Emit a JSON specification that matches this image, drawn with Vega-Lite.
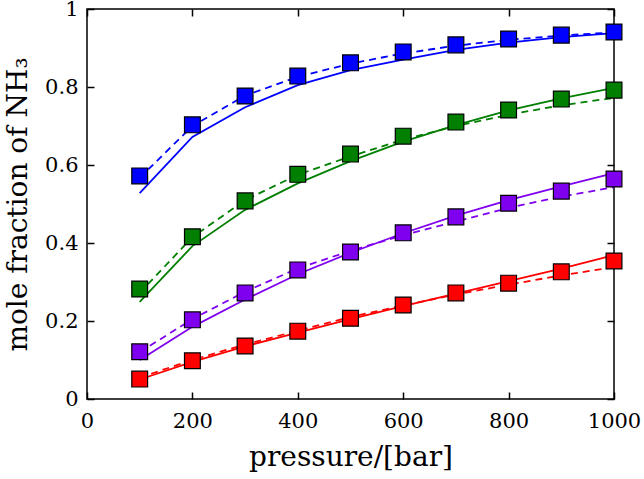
{
  "$schema": "https://vega.github.io/schema/vega-lite/v6.json",
  "width": 527,
  "height": 390,
  "autosize": {"type": "none"},
  "padding": {"left": 87, "top": 9, "right": 30, "bottom": 80},
  "background": "white",
  "config": {
    "view": {"stroke": "black", "strokeWidth": 1.5},
    "font": "DejaVu Serif",
    "axis": {
      "labelFont": "DejaVu Serif",
      "titleFont": "DejaVu Serif",
      "labelFontSize": 21,
      "titleFontSize": 28,
      "titleFontWeight": "normal",
      "labelColor": "black",
      "titleColor": "black",
      "tickColor": "black",
      "grid": false,
      "domain": false,
      "ticks": true,
      "tickSize": 7,
      "offset": -7,
      "tickWidth": 1.5,
      "zindex": 1
    }
  },
  "resolve": {"axis": {"x": "independent", "y": "independent"}},
  "data": {"values": [
    {"s":"a","k":"exp","p":100,"y":0.572},{"s":"a","k":"exp","p":200,"y":0.703},{"s":"a","k":"exp","p":300,"y":0.777},{"s":"a","k":"exp","p":400,"y":0.828},{"s":"a","k":"exp","p":500,"y":0.862},{"s":"a","k":"exp","p":600,"y":0.890},{"s":"a","k":"exp","p":700,"y":0.908},{"s":"a","k":"exp","p":800,"y":0.923},{"s":"a","k":"exp","p":900,"y":0.933},{"s":"a","k":"exp","p":1000,"y":0.941},
    {"s":"a","k":"solid","p":100,"y":0.528},{"s":"a","k":"solid","p":200,"y":0.672},{"s":"a","k":"solid","p":300,"y":0.748},{"s":"a","k":"solid","p":400,"y":0.805},{"s":"a","k":"solid","p":500,"y":0.843},{"s":"a","k":"solid","p":600,"y":0.870},{"s":"a","k":"solid","p":700,"y":0.895},{"s":"a","k":"solid","p":800,"y":0.914},{"s":"a","k":"solid","p":900,"y":0.928},{"s":"a","k":"solid","p":1000,"y":0.938},
    {"s":"a","k":"dash","p":100,"y":0.567},{"s":"a","k":"dash","p":200,"y":0.700},{"s":"a","k":"dash","p":300,"y":0.778},{"s":"a","k":"dash","p":400,"y":0.826},{"s":"a","k":"dash","p":500,"y":0.860},{"s":"a","k":"dash","p":600,"y":0.886},{"s":"a","k":"dash","p":700,"y":0.906},{"s":"a","k":"dash","p":800,"y":0.921},{"s":"a","k":"dash","p":900,"y":0.932},{"s":"a","k":"dash","p":1000,"y":0.940},
    {"s":"b","k":"exp","p":100,"y":0.282},{"s":"b","k":"exp","p":200,"y":0.416},{"s":"b","k":"exp","p":300,"y":0.508},{"s":"b","k":"exp","p":400,"y":0.576},{"s":"b","k":"exp","p":500,"y":0.628},{"s":"b","k":"exp","p":600,"y":0.674},{"s":"b","k":"exp","p":700,"y":0.710},{"s":"b","k":"exp","p":800,"y":0.741},{"s":"b","k":"exp","p":900,"y":0.769},{"s":"b","k":"exp","p":1000,"y":0.792},
    {"s":"b","k":"solid","p":100,"y":0.249},{"s":"b","k":"solid","p":200,"y":0.392},{"s":"b","k":"solid","p":300,"y":0.485},{"s":"b","k":"solid","p":400,"y":0.553},{"s":"b","k":"solid","p":500,"y":0.610},{"s":"b","k":"solid","p":600,"y":0.660},{"s":"b","k":"solid","p":700,"y":0.702},{"s":"b","k":"solid","p":800,"y":0.740},{"s":"b","k":"solid","p":900,"y":0.771},{"s":"b","k":"solid","p":1000,"y":0.798},
    {"s":"b","k":"dash","p":100,"y":0.272},{"s":"b","k":"dash","p":200,"y":0.415},{"s":"b","k":"dash","p":300,"y":0.510},{"s":"b","k":"dash","p":400,"y":0.575},{"s":"b","k":"dash","p":500,"y":0.622},{"s":"b","k":"dash","p":600,"y":0.665},{"s":"b","k":"dash","p":700,"y":0.700},{"s":"b","k":"dash","p":800,"y":0.729},{"s":"b","k":"dash","p":900,"y":0.753},{"s":"b","k":"dash","p":1000,"y":0.772},
    {"s":"c","k":"exp","p":100,"y":0.121},{"s":"c","k":"exp","p":200,"y":0.203},{"s":"c","k":"exp","p":300,"y":0.272},{"s":"c","k":"exp","p":400,"y":0.331},{"s":"c","k":"exp","p":500,"y":0.377},{"s":"c","k":"exp","p":600,"y":0.426},{"s":"c","k":"exp","p":700,"y":0.467},{"s":"c","k":"exp","p":800,"y":0.502},{"s":"c","k":"exp","p":900,"y":0.533},{"s":"c","k":"exp","p":1000,"y":0.564},
    {"s":"c","k":"solid","p":100,"y":0.100},{"s":"c","k":"solid","p":200,"y":0.185},{"s":"c","k":"solid","p":300,"y":0.255},{"s":"c","k":"solid","p":400,"y":0.320},{"s":"c","k":"solid","p":500,"y":0.375},{"s":"c","k":"solid","p":600,"y":0.425},{"s":"c","k":"solid","p":700,"y":0.470},{"s":"c","k":"solid","p":800,"y":0.510},{"s":"c","k":"solid","p":900,"y":0.545},{"s":"c","k":"solid","p":1000,"y":0.579},
    {"s":"c","k":"dash","p":100,"y":0.120},{"s":"c","k":"dash","p":200,"y":0.205},{"s":"c","k":"dash","p":300,"y":0.275},{"s":"c","k":"dash","p":400,"y":0.335},{"s":"c","k":"dash","p":500,"y":0.380},{"s":"c","k":"dash","p":600,"y":0.420},{"s":"c","k":"dash","p":700,"y":0.455},{"s":"c","k":"dash","p":800,"y":0.490},{"s":"c","k":"dash","p":900,"y":0.519},{"s":"c","k":"dash","p":1000,"y":0.543},
    {"s":"d","k":"exp","p":100,"y":0.051},{"s":"d","k":"exp","p":200,"y":0.098},{"s":"d","k":"exp","p":300,"y":0.136},{"s":"d","k":"exp","p":400,"y":0.174},{"s":"d","k":"exp","p":500,"y":0.207},{"s":"d","k":"exp","p":600,"y":0.241},{"s":"d","k":"exp","p":700,"y":0.272},{"s":"d","k":"exp","p":800,"y":0.297},{"s":"d","k":"exp","p":900,"y":0.326},{"s":"d","k":"exp","p":1000,"y":0.354},
    {"s":"d","k":"solid","p":100,"y":0.050},{"s":"d","k":"solid","p":200,"y":0.095},{"s":"d","k":"solid","p":300,"y":0.135},{"s":"d","k":"solid","p":400,"y":0.170},{"s":"d","k":"solid","p":500,"y":0.205},{"s":"d","k":"solid","p":600,"y":0.238},{"s":"d","k":"solid","p":700,"y":0.270},{"s":"d","k":"solid","p":800,"y":0.302},{"s":"d","k":"solid","p":900,"y":0.334},{"s":"d","k":"solid","p":1000,"y":0.369},
    {"s":"d","k":"dash","p":100,"y":0.055},{"s":"d","k":"dash","p":200,"y":0.100},{"s":"d","k":"dash","p":300,"y":0.140},{"s":"d","k":"dash","p":400,"y":0.175},{"s":"d","k":"dash","p":500,"y":0.210},{"s":"d","k":"dash","p":600,"y":0.240},{"s":"d","k":"dash","p":700,"y":0.268},{"s":"d","k":"dash","p":800,"y":0.293},{"s":"d","k":"dash","p":900,"y":0.317},{"s":"d","k":"dash","p":1000,"y":0.338}
  ]},
  "layer": [
    {
      "transform": [{"filter": "datum.k == 'solid'"}],
      "mark": {"type": "line", "strokeWidth": 1.8},
      "encoding": {
        "x": {"field": "p", "type": "quantitative", "title": "pressure/[bar]",
          "scale": {"domain": [0, 1000], "nice": false},
          "axis": {"orient": "bottom", "values": [0,200,400,600,800,1000], "format": "d", "labelPadding": 11, "titlePadding": 12, "labelFlush": false}},
        "y": {"field": "y", "type": "quantitative", "title": "mole fraction of NH₃",
          "scale": {"domain": [0, 1], "nice": false},
          "axis": {"orient": "left", "values": [0,0.2,0.4,0.6,0.8,1], "format": "~g", "labelPadding": 9, "titlePadding": 12, "labelFlush": false}},
        "color": {"field": "s", "type": "nominal", "legend": null,
          "scale": {"domain": ["a","b","c","d"], "range": ["#0000ff", "#007f00", "#7f00ee", "#ff0000"]}}
      }
    },
    {
      "transform": [{"filter": "datum.k == 'dash'"}],
      "mark": {"type": "line", "strokeWidth": 1.8, "strokeDash": [7, 5]},
      "encoding": {
        "x": {"field": "p", "type": "quantitative",
          "axis": {"orient": "top", "values": [0,200,400,600,800,1000], "labels": false, "title": null}},
        "y": {"field": "y", "type": "quantitative",
          "axis": {"orient": "right", "values": [0,0.2,0.4,0.6,0.8,1], "labels": false, "title": null}},
        "color": {"field": "s", "type": "nominal", "legend": null}
      }
    },
    {
      "transform": [{"filter": "datum.k == 'exp'"}],
      "mark": {"type": "square", "size": 250, "filled": true, "opacity": 1, "stroke": "black", "strokeWidth": 1.2},
      "encoding": {
        "x": {"field": "p", "type": "quantitative", "axis": null},
        "y": {"field": "y", "type": "quantitative", "axis": null},
        "fill": {"field": "s", "type": "nominal", "legend": null,
          "scale": {"domain": ["a","b","c","d"], "range": ["#0000ff", "#007f00", "#7f00ee", "#ff0000"]}}
      }
    }
  ]
}
